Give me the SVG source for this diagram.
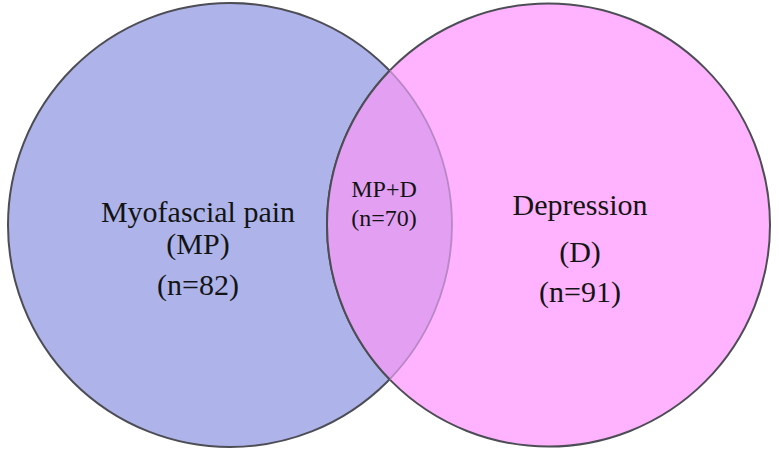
<svg xmlns="http://www.w3.org/2000/svg" width="779" height="450" viewBox="0 0 779 450">
<style>
text{fill:#141414;text-anchor:middle}
.ring{stroke:#4d4d55;stroke-width:2}
</style>
<rect width="779" height="450" fill="#ffffff"/>
<g id="node-mp">
<circle class="ring" cx="230" cy="225" r="222" fill="#aeb4ea"/>
</g>
<g id="node-d">
<circle class="ring" cx="548.5" cy="225" r="221.5" fill="#ffb3fe"/>
</g>
<g id="node-overlap">
<path d="M389.6 70.7 A222 222 0 0 1 389.6 379.3 A221.5 221.5 0 0 1 389.6 70.7 Z" fill="#e3a0f3"/>
<path d="M389.6 70.7 A222 222 0 0 1 389.6 379.3" fill="none" stroke="#b887c4" stroke-width="1.8"/>
<path d="M389.6 379.3 A221.5 221.5 0 0 1 389.6 70.7" fill="none" class="ring"/>
</g>
<g id="connectors"></g>
<g id="labels">
<text font-family="'Liberation Serif'" font-size="30" x="198" y="222">Myofascial pain</text>
<text font-family="'Liberation Serif'" font-size="30" x="198" y="254">(MP)</text>
<text font-family="'Liberation Serif'" font-size="30" x="198" y="295">(n=82)</text>
<text font-family="'Liberation Serif'" font-size="24" x="384" y="197">MP+D</text>
<text font-family="'Liberation Serif'" font-size="24" x="384" y="226">(n=70)</text>
<text font-family="'Liberation Serif'" font-size="30" x="580" y="215">Depression</text>
<text font-family="'Liberation Serif'" font-size="30" x="580" y="262">(D)</text>
<text font-family="'Liberation Serif'" font-size="30" x="580" y="302">(n=91)</text>
</g>
</svg>
